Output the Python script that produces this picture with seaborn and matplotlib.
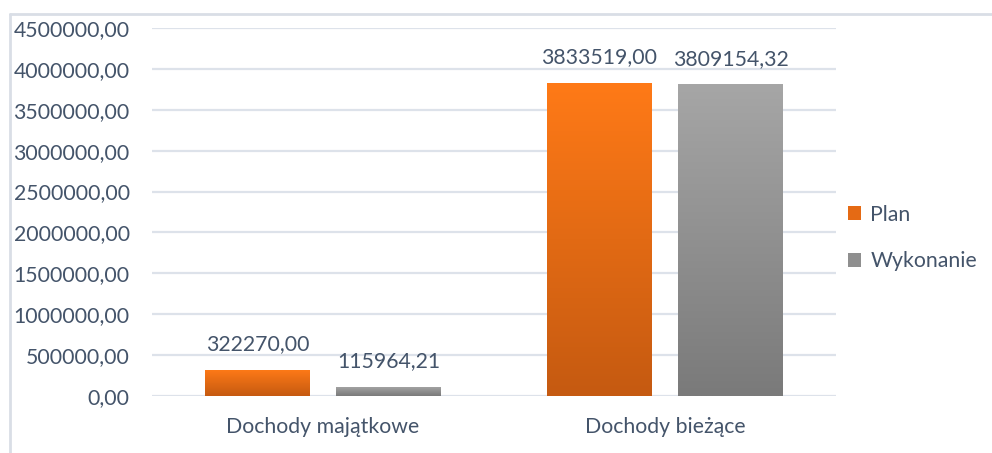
import numpy as np
import pandas as pd
import matplotlib
matplotlib.use("Agg")
import matplotlib.pyplot as plt
import seaborn as sns
from matplotlib.lines import Line2D
from matplotlib.colors import LinearSegmentedColormap
from matplotlib.patches import Patch

categories = ["Dochody majątkowe", "Dochody bieżące"]
series = ["Plan", "Wykonanie"]
plan_values = [322270.00, 3833519.00]
wyk_values = [115964.21, 3809154.32]
y_ticks = [0, 500000, 1000000, 1500000, 2000000, 2500000, 3000000, 3500000, 4000000, 4500000]

df = pd.DataFrame({
    "kategoria": categories * 2,
    "seria": [series[0]] * 2 + [series[1]] * 2,
    "wartosc": plan_values + wyk_values,
})

sns.set_theme(style="white")
plt.rcParams["font.family"] = ["Lato", "DejaVu Sans"]
text_color = "#44546A"
grid_color = "#DDE2EA"
fs = 15.3

fig = plt.figure(figsize=(9.92, 4.53), dpi=100)
ax = fig.add_axes([152 / 992, 1 - 396 / 453, (836 - 152) / 992, (396 - 28) / 453])

top_cols = {"Plan": "#FF7A17", "Wykonanie": "#A6A6A6"}
bot_cols = {"Plan": "#C55A11", "Wykonanie": "#7A7A7A"}
mid_cols = {"Plan": "#E56A14", "Wykonanie": "#8F8F8F"}

sns.barplot(data=df, x="kategoria", y="wartosc", hue="seria", hue_order=series,
            order=categories, palette=mid_cols, width=0.766, gap=0.2,
            ax=ax, legend=False, zorder=3, linewidth=0)

ax.set_ylim(0, 4500000)
ax.set_xlim(-0.5, 1.5)
ax.set_yticks(y_ticks)
ax.set_yticklabels([f"{v:.2f}".replace(".", ",") for v in y_ticks])
ax.yaxis.grid(True, color=grid_color, linewidth=1.6, zorder=0)
ax.set_axisbelow(True)
for s in ax.spines.values():
    s.set_visible(False)
ax.tick_params(axis="y", length=0, pad=16, labelsize=fs, labelcolor=text_color)
ax.tick_params(axis="x", length=0, pad=15, labelsize=fs, labelcolor=text_color)
ax.set_xlabel("")
ax.set_ylabel("")

# gradients + labels
for container, s in zip(ax.containers, series):
    cmap = LinearSegmentedColormap.from_list(s, [bot_cols[s], top_cols[s]])
    for bar in container:
        x0, y0 = bar.get_x(), bar.get_y()
        w, h = bar.get_width(), bar.get_height()
        grad = np.linspace(0, 1, 256).reshape(-1, 1)
        im = ax.imshow(grad, extent=[x0, x0 + w, y0, y0 + h], origin="lower",
                       cmap=cmap, aspect="auto", zorder=4)
        im.set_clip_path(bar)
        ax.annotate(f"{h:.2f}".replace(".", ","), (x0 + w / 2, y0 + h),
                    xytext=(0, 14), textcoords="offset points", ha="center",
                    va="baseline", fontsize=fs, color=text_color, zorder=5)
ax.set_xlim(-0.5, 1.5)
ax.set_ylim(0, 4500000)

handles = [Patch(facecolor=mid_cols[s], edgecolor="none") for s in series]
fig.legend(handles, series, loc="center left", bbox_to_anchor=(829 / 992, 1 - 238 / 453),
           frameon=False, fontsize=fs, labelcolor=text_color, handlelength=0.6,
           handleheight=0.6, handletextpad=0.45, labelspacing=1.25)

# outer chart frame
fig.add_artist(Line2D([10 / 992, 1.0], [1 - 14 / 453, 1 - 14 / 453], color="#D9DEE6", linewidth=2))
fig.add_artist(Line2D([10 / 992, 10 / 992], [0, 1 - 14 / 453], color="#D9DEE6", linewidth=2))

fig.savefig("out.png", dpi=100, facecolor="white")
